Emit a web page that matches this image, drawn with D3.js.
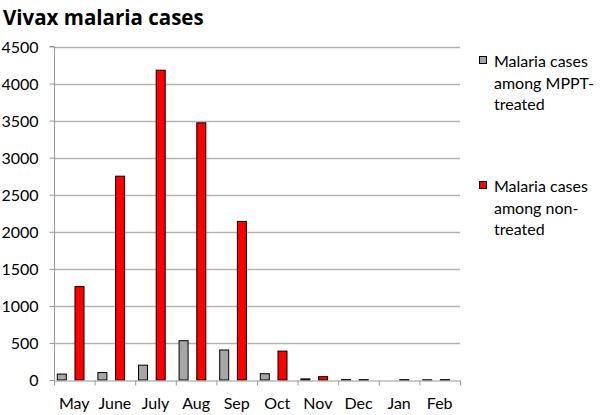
<!DOCTYPE html>
<html><head><meta charset="utf-8">
<script src="https://cdn.jsdelivr.net/npm/d3@7/dist/d3.min.js"></script>
<style>html,body{margin:0;padding:0;background:#fff;}svg{display:block;font-family:Lato,'Open Sans',sans-serif;}</style>
</head><body><svg id="c" width="600" height="415"></svg>
<script>
const months = ["May","June","July","Aug","Sep","Oct","Nov","Dec","Jan","Feb"];
const treated = [80,100,200,530,405,85,15,5,0,3];
const nonTreated = [1260,2750,4180,3470,2140,390,45,5,5,5];
const yTicks = [0,500,1000,1500,2000,2500,3000,3500,4000,4500];
const seriesNames = [["Malaria cases","among MPPT-","treated"],["Malaria cases","among non-","treated"]];
const colors = ["#a6a6a6","#ff0000"];

const svg = d3.select("#c");
const x0 = 54, x1 = 460, yTop = 46.5, yBot = 380;
const x = d3.scaleBand().domain(months).range([x0,x1]).paddingInner(0).paddingOuter(0);
const y = d3.scaleLinear().domain([0,4500]).range([yBot,yTop]);
const bw = x.bandwidth();

svg.append("text").attr("x",3).attr("y",25).attr("font-size",20.5).attr("font-weight","bold")
  .attr("font-family","'Open Sans',Lato,sans-serif").text("Vivax malaria cases");

// gridlines
svg.append("g").selectAll("line").data(yTicks.slice(1)).join("line")
  .attr("x1",x0).attr("x2",x1).attr("y1",d=>Math.round(y(d))+0.5).attr("y2",d=>Math.round(y(d))+0.5)
  .attr("stroke","#b3b3b3").attr("stroke-width",1.3);

// y axis
const ya = svg.append("g").attr("transform",`translate(${x0+0.5},0)`)
  .call(d3.axisLeft(y).tickValues(yTicks).tickSize(5).tickPadding(11).tickFormat(d3.format("d")));
ya.select(".domain").attr("stroke","#999").attr("d",`M-5,${yTop}H0V${yBot}`);
ya.selectAll(".tick line").attr("stroke","#999");
ya.selectAll(".tick text").attr("font-size",16).attr("font-family","Lato,'Open Sans',sans-serif").attr("fill","#000").attr("dy","0.35em");

// bars
const g = svg.append("g");
g.selectAll("rect.t").data(months).join("rect").attr("class","t")
  .attr("x",(d)=>x(d)+0.081*bw).attr("width",0.222*bw)
  .attr("y",(d,i)=>y(treated[i])).attr("height",(d,i)=>yBot-y(treated[i]))
  .attr("fill",colors[0]).attr("stroke","#000").attr("stroke-width",1);
g.selectAll("rect.n").data(months).join("rect").attr("class","n")
  .attr("x",(d)=>x(d)+0.517*bw).attr("width",0.222*bw)
  .attr("y",(d,i)=>y(nonTreated[i])).attr("height",(d,i)=>yBot-y(nonTreated[i]))
  .attr("fill",colors[1]).attr("stroke","#000").attr("stroke-width",1);

// x axis
const xa = svg.append("g").attr("transform",`translate(0,${yBot+0.5})`)
  .call(d3.axisBottom(x).tickSize(0).tickPadding(17));
xa.select(".domain").attr("stroke","#999");
xa.selectAll(".tick text").attr("font-size",16).attr("font-family","Lato,'Open Sans',sans-serif").attr("fill","#000");
xa.append("g").selectAll("line").data(months.concat(["end"])).join("line")
  .attr("x1",(d,i)=>x0+i*bw+0.5).attr("x2",(d,i)=>x0+i*bw+0.5).attr("y1",0).attr("y2",5).attr("stroke","#999");

// legend
const legY = [67,192];
seriesNames.forEach((lines,s)=>{
  svg.append("rect").attr("x",479.5).attr("y",legY[s]-10.5).attr("width",7).attr("height",7)
    .attr("fill",colors[s]).attr("stroke","#000").attr("stroke-width",1);
  lines.forEach((t,k)=>{
    svg.append("text").attr("x",494).attr("y",legY[s]+k*21.5).attr("font-size",16).text(t);
  });
});
</script></body></html>
